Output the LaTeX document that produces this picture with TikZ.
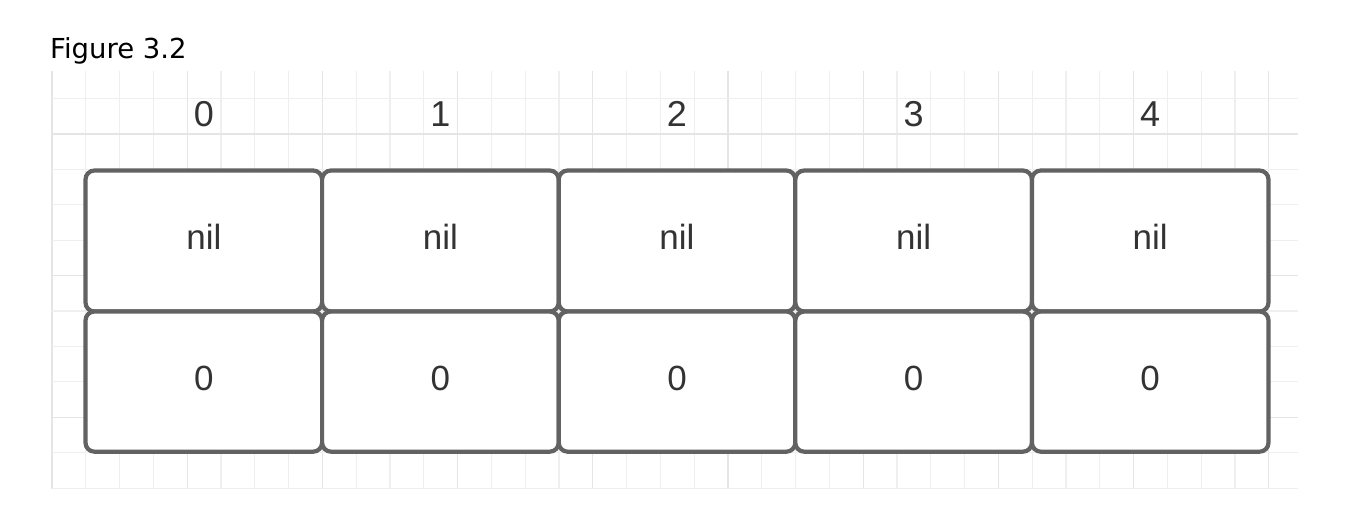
\documentclass[tikz,border=0pt]{standalone}
\usepackage{fontspec}
\setmainfont{Liberation Sans}
\newfontfamily\figfont{DejaVu Sans}
\definecolor{gridminor}{HTML}{EFEFEF}
\definecolor{gridmajor}{HTML}{E5E5E5}
\definecolor{boxstroke}{HTML}{626262}
\definecolor{txt}{HTML}{333333}
\tikzset{
  cell/.style={draw=boxstroke, line width=4.2pt, rounded corners=9pt, fill=white,
    minimum width=236.6pt, minimum height=#1, inner sep=0pt, outer sep=0pt, anchor=north west,
    text=txt, font=\fontsize{35}{35}\selectfont, text height=25pt, text depth=8pt},
  idxlabel/.style={text=txt, font=\fontsize{36}{36}\selectfont, anchor=base, inner sep=0pt},
  figlabel/.style={text=black, font=\figfont\fontsize{27.5}{27.5}\selectfont, anchor=base west, inner sep=0pt}
}
\begin{document}
\begin{tikzpicture}[x=1pt,y=-1pt]
\useasboundingbox (0,0) rectangle (1347,510);
\fill[white] (0,0) rectangle (1347,510);
% grid
\foreach \k in {0,...,36}{
  \pgfmathtruncatemacro{\m}{mod(\k,4)}
  \ifnum\m=0
    \draw[gridmajor, line width=1.2pt] ({52+33.8*\k},71) -- ({52+33.8*\k},489);
  \else
    \draw[gridminor, line width=1.2pt] ({52+33.8*\k},71) -- ({52+33.8*\k},489);
  \fi
}
\foreach \k in {0,...,11}{
  \pgfmathtruncatemacro{\m}{mod(\k,4)}
  \ifnum\m=1
    \draw[gridmajor, line width=1.2pt] (52,{98.7+35.4*\k}) -- (1298,{98.7+35.4*\k});
  \else
    \draw[gridminor, line width=1.2pt] (52,{98.7+35.4*\k}) -- (1298,{98.7+35.4*\k});
  \fi
}
% title
\node[figlabel] (title) at (50,59) {Figure 3.2};
% cells
\foreach \i in {0,...,4}{
  \node[cell=141pt] (top\i) at ({85.5+236.6*\i},170.5) {nil};
  \node[cell=140.2pt] (bot\i) at ({85.5+236.6*\i},311.5) {0};
  \node[idxlabel] (idx\i) at ({203.8+236.6*\i},127) {\i};
}
\end{tikzpicture}
\end{document}
